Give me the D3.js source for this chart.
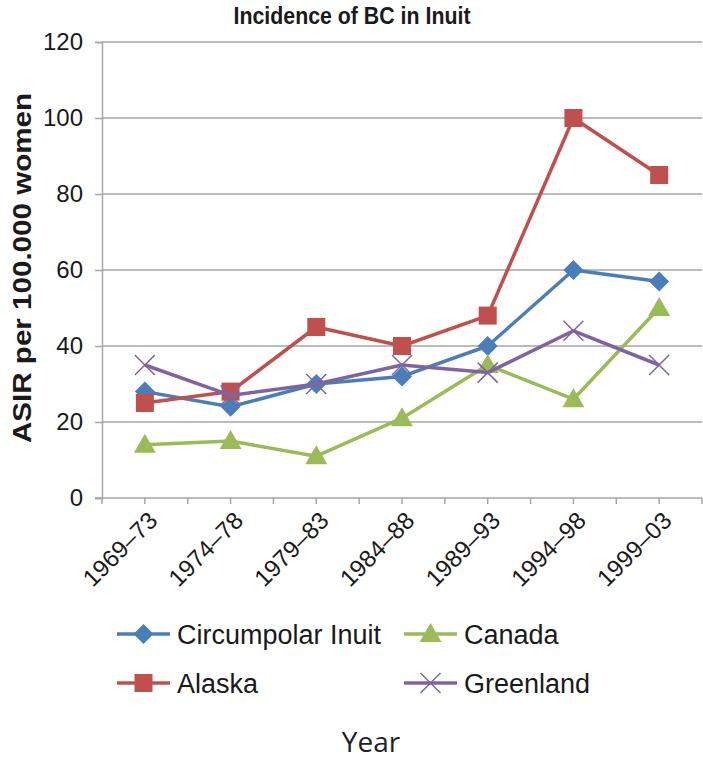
<!DOCTYPE html>
<html>
<head>
<meta charset="utf-8">
<script src="https://cdn.jsdelivr.net/npm/d3@7"></script>
<style>
  body { margin: 0; background: #fff; }
  svg { display: block; }
</style>
</head>
<body>
<div id="chart"></div>
<script>
var w = 703;
var h = 763;
var margin = ({top: 42, right: 1, bottom: 265, left: 102});

var years = ["1969\u201373", "1974\u201378", "1979\u201383", "1984\u201388", "1989\u201393", "1994\u201398", "1999\u201303"];
var circumpolar = [28, 24, 30, 32, 40, 60, 57];
var alaska = [25, 28, 45, 40, 48, 100, 85];
var canada = [14, 15, 11, 21, 35, 26, 50];
var greenland = [35, 27, 30, 35, 33, 44, 35];
var yTicks = [0, 20, 40, 60, 80, 100, 120];

var series = [
    {name: "Circumpolar Inuit", values: circumpolar, color: "#4a7ebb", symbol: "diamond"},
    {name: "Alaska", values: alaska, color: "#c0504d", symbol: "square"},
    {name: "Canada", values: canada, color: "#9bbb59", symbol: "triangle"},
    {name: "Greenland", values: greenland, color: "#8064a2", symbol: "x"}
];

var svg = d3.select("#chart")
    .append("svg")
    .attr("width", w)
    .attr("height", h);

var xScale = d3.scaleBand()
    .domain(years)
    .range([margin.left, w - margin.right]);

var yScale = d3.scaleLinear()
    .domain([0, 120])
    .range([h - margin.bottom, margin.top]);

// gridlines
svg.append("g")
    .selectAll("line")
    .data(yTicks.slice(1))
    .enter()
    .append("line")
    .attr("x1", margin.left)
    .attr("x2", w - margin.right)
    .attr("y1", function(d) { return yScale(d); })
    .attr("y2", function(d) { return yScale(d); })
    .attr("stroke", "#a6a6a6")
    .attr("stroke-width", 1.5);

// y axis
var yAxis = svg.append("g")
    .attr("transform", "translate(" + margin.left + ",0)")
    .call(d3.axisLeft(yScale).tickValues(yTicks).tickSize(7).tickPadding(12));
yAxis.select(".domain").attr("stroke", "#a6a6a6").attr("stroke-width", 1.5);
yAxis.selectAll(".tick line").attr("stroke", "#a6a6a6").attr("stroke-width", 1.5);
yAxis.selectAll(".tick text")
    .attr("font-family", "Liberation Sans, Arial, sans-serif")
    .attr("font-size", 24)
    .attr("fill", "#1a1a1a");

// x axis: ticks at band centers and band edges
var y0 = yScale(0);
var xTickPos = [];
years.forEach(function(d) {
    xTickPos.push(xScale(d));
    xTickPos.push(xScale(d) + xScale.bandwidth() / 2);
});
xTickPos.push(xScale.range()[1]);

svg.append("line")
    .attr("x1", margin.left - 7)
    .attr("x2", w - margin.right)
    .attr("y1", y0)
    .attr("y2", y0)
    .attr("stroke", "#a6a6a6")
    .attr("stroke-width", 1.5);

svg.append("g")
    .selectAll("line")
    .data(xTickPos)
    .enter()
    .append("line")
    .attr("x1", function(d) { return d; })
    .attr("x2", function(d) { return d; })
    .attr("y1", y0)
    .attr("y2", y0 + 6)
    .attr("stroke", "#a6a6a6")
    .attr("stroke-width", 1.5);

svg.append("g")
    .selectAll("text")
    .data(years)
    .enter()
    .append("text")
    .attr("transform", function(d) {
        var cx = xScale(d) + xScale.bandwidth() / 2;
        return "translate(" + (cx + 14) + "," + (y0 + 24) + ") rotate(-45)";
    })
    .attr("text-anchor", "end")
    .attr("font-family", "Liberation Sans, Arial, sans-serif")
    .attr("font-size", 24)
    .attr("fill", "#1a1a1a")
    .text(function(d) { return d; });

// lines and markers
var line = d3.line()
    .x(function(d, i) { return xScale(years[i]) + xScale.bandwidth() / 2; })
    .y(function(d) { return yScale(d); });

function marker(g, sym, color) {
    if (sym === "diamond") {
        g.append("path").attr("d", "M0,-10L10,0L0,10L-10,0Z").attr("fill", color);
    } else if (sym === "square") {
        g.append("rect").attr("x", -9).attr("y", -9)
            .attr("width", 18).attr("height", 18).attr("fill", color);
    } else if (sym === "triangle") {
        g.append("path").attr("d", "M0,-11L11,8L-11,8Z").attr("fill", color);
    } else {
        g.append("path").attr("d", "M-10,-10L10,10M-10,10L10,-10")
            .attr("fill", "none").attr("stroke", color).attr("stroke-width", 1.5);
    }
}

series.forEach(function(s) {
    svg.append("path")
        .datum(s.values)
        .attr("fill", "none")
        .attr("stroke", s.color)
        .attr("stroke-width", 3.5)
        .attr("stroke-linejoin", "round")
        .attr("d", line);
    s.values.forEach(function(v, i) {
        var g = svg.append("g")
            .attr("transform", "translate(" + (xScale(years[i]) + xScale.bandwidth() / 2) + "," + yScale(v) + ")");
        marker(g, s.symbol, s.color);
    });
});

// legend
var legendPos = [
    {x: 117, y: 634}, {x: 117, y: 683}, {x: 404, y: 634}, {x: 404, y: 683}
];
series.forEach(function(s, i) {
    var p = legendPos[i];
    var lg = svg.append("g").attr("transform", "translate(" + p.x + "," + p.y + ")");
    lg.append("line")
        .attr("x1", 0).attr("x2", 53)
        .attr("y1", 0).attr("y2", 0)
        .attr("stroke", s.color)
        .attr("stroke-width", 3.5);
    var mg = lg.append("g").attr("transform", "translate(26.5,0)");
    marker(mg, s.symbol, s.color);
    lg.append("text")
        .attr("x", 60)
        .attr("y", 10)
        .attr("font-family", "Liberation Sans, Arial, sans-serif")
        .attr("font-size", 27)
        .attr("fill", "#1a1a1a")
        .text(s.name);
});

// titles
svg.append("text")
    .attr("x", 352)
    .attr("y", 24)
    .attr("text-anchor", "middle")
    .attr("font-family", "Liberation Sans Narrow, Liberation Sans, Arial, sans-serif")
    .attr("font-weight", "bold")
    .attr("font-size", 23)
    .attr("textLength", 237)
    .attr("lengthAdjust", "spacingAndGlyphs")
    .attr("fill", "#1a1a1a")
    .text("Incidence of BC in Inuit");

svg.append("text")
    .attr("transform", "translate(31,268) rotate(-90)")
    .attr("text-anchor", "middle")
    .attr("font-family", "Liberation Sans, Arial, sans-serif")
    .attr("font-weight", "bold")
    .attr("font-size", 26)
    .attr("textLength", 350)
    .attr("lengthAdjust", "spacingAndGlyphs")
    .attr("fill", "#1a1a1a")
    .text("ASIR per 100.000 women");

svg.append("text")
    .attr("x", 371)
    .attr("y", 752)
    .attr("text-anchor", "middle")
    .attr("font-family", "Open Sans, sans-serif")
    .attr("font-size", 28)
    .attr("fill", "#222")
    .text("Year");
</script>
</body>
</html>
